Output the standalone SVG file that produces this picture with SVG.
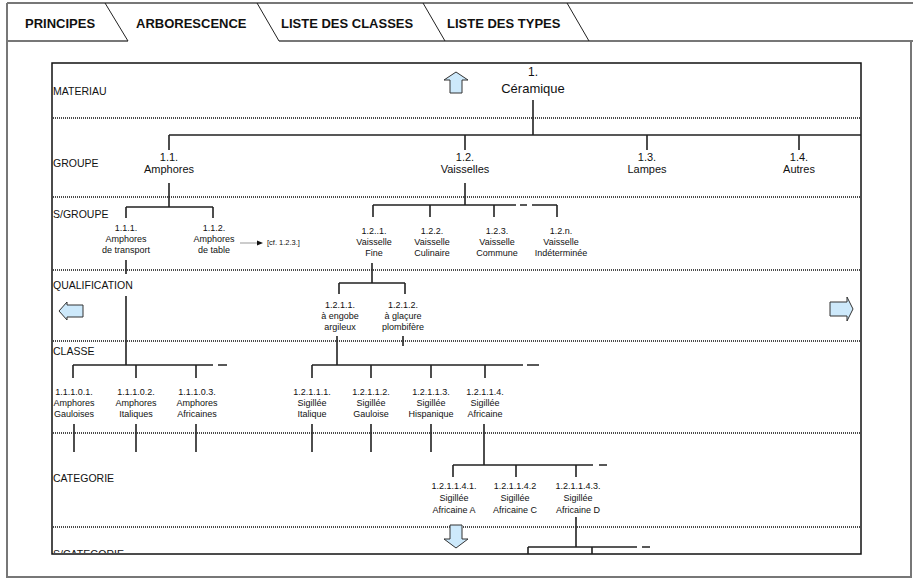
<svg xmlns="http://www.w3.org/2000/svg" width="913" height="578" viewBox="0 0 913 578">
<style>
text{font-family:"Liberation Sans",Arial,sans-serif;fill:#111}
.tab{font-size:13px;font-weight:bold}
.lbl{font-size:10.5px}
.g{font-size:11px;text-anchor:middle}
.top{font-size:13px;text-anchor:middle}
.n{font-size:9px;text-anchor:middle}
.cf{font-size:7.5px}
.frm{fill:none;stroke:#777;stroke-width:2}
.dot{stroke:#111;stroke-width:1.6;stroke-dasharray:1 1;fill:none}
.c{stroke:#222;stroke-width:1.6;fill:none}
.arr{fill:#cde9fb;stroke:#333;stroke-width:1}
</style>
<defs>
<clipPath id="clipBottom"><rect x="52" y="540" width="300" height="13"/></clipPath>
</defs>
<rect width="913" height="578" fill="#fff"/>
<g id="tabs">
<path class="frm" d="M7,3 H913 M7,3 V577 H911 V41 M7,41 H128 M279,41 H913"/>
<path d="M105,3 L128,41 M257,3 L279,41 M423,3 L445,41 M567,3 L589,41" stroke="#222" stroke-width="1" fill="none"/>
<text class="tab" x="25" y="28">PRINCIPES</text>
<text class="tab" x="136" y="28">ARBORESCENCE</text>
<text class="tab" x="281" y="28">LISTE DES CLASSES</text>
<text class="tab" x="447" y="28">LISTE DES TYPES</text>
</g>
<g id="frame">
<rect x="52" y="63" width="809" height="491" fill="none" stroke="#111" stroke-width="1.5"/>
<path class="dot" d="M53,118 H860 M53,197 H860 M53,270 H860 M53,341 H860 M53,433 H860 M53,527 H860"/>
</g>
<g id="row-labels">
<text class="lbl" x="53" y="95">MATERIAU</text>
<text class="lbl" x="53" y="167">GROUPE</text>
<text class="lbl" x="53" y="218">S/GROUPE</text>
<text class="lbl" x="53" y="289">QUALIFICATION</text>
<text class="lbl" x="53" y="355">CLASSE</text>
<text class="lbl" x="53" y="482">CATEGORIE</text>
<text class="lbl" x="53" y="558" clip-path="url(#clipBottom)">S/CATEGORIE</text>
</g>
<g id="nav-arrows">
<path class="arr" d="M456,72 L468,80 H462 V93 H450 V80 H444 Z"/>
<path class="arr" d="M450,525 H462 V539 H468 L456,548 L444,539 H450 Z"/>
<path class="arr" d="M59,311 L67,302 V305 H83 V317 H67 V320 Z"/>
<path class="arr" d="M830,302 H847 V297 L853,309 L847,321 V316 H830 Z"/>
</g>
<g id="connectors">
<path class="c" d="M533,100 V135 M169,135 H861 M169,135 V150 M465,135 V150 M647,135 V150 M799,135 V150"/>
<path class="c" d="M169,183 V207 M126,207 H213 M126,207 V218 M213,207 V218"/>
<path class="c" d="M465,183 V205 M373,205 H516 M520,205 H527 M532,205 H557 M373,205 V217 M430,205 V217 M494,205 V217 M557,205 V217"/>
<path d="M240,243 H258" stroke="#aaa" stroke-width="1.2"/>
<polygon points="257,240.5 263,243 257,245.5" fill="#111"/>
<path class="c" d="M126,260 V274 M126,296 V365 M73,365 H213 M218,365 H227 M73,365 V378 M136,365 V378 M196,365 V378"/>
<path class="c" d="M74,424 V452 M136,424 V452 M196,424 V452"/>
<path class="c" d="M372,263 V283 M339,283 H405 M339,283 V294 M405,283 V294"/>
<path class="c" d="M337,336 V365 M403,336 V346"/>
<path class="c" d="M312,365 H523 M527,365 H539 M312,365 V378 M371,365 V378 M431,365 V378 M485,365 V378"/>
<path class="c" d="M312,424 V452 M371,424 V452 M431,424 V452 M484,424 V465"/>
<path class="c" d="M453,465 H593 M599,465 H607 M453,465 V477 M516,465 V477 M576,465 V477"/>
<path class="c" d="M576,517 V547 M528,547 H637 M642,547 H650 M528,547 V554 M592,547 V554"/>
</g>
<g id="n1"><text class="top" x="533" y="76" style="font-size:12px">1.</text><text class="top" x="533" y="93">Céramique</text></g>
<g id="n1-1"><text class="g" x="169" y="161">1.1.</text><text class="g" x="169" y="173">Amphores</text></g>
<g id="n1-2"><text class="g" x="465" y="161">1.2.</text><text class="g" x="465" y="173">Vaisselles</text></g>
<g id="n1-3"><text class="g" x="647" y="161">1.3.</text><text class="g" x="647" y="173">Lampes</text></g>
<g id="n1-4"><text class="g" x="799" y="161">1.4.</text><text class="g" x="799" y="173">Autres</text></g>
<g id="n1-1-1"><text class="n" x="126" y="231">1.1.1.</text><text class="n" x="126" y="242">Amphores</text><text class="n" x="126" y="253">de transport</text></g>
<g id="n1-1-2"><text class="n" x="214" y="231">1.1.2.</text><text class="n" x="214" y="242">Amphores</text><text class="n" x="214" y="253">de table</text></g>
<g id="cf"><text class="cf" x="267" y="245">[cf. 1.2.3.]</text></g>
<g id="n1-2-1"><text class="n" x="374" y="234">1.2..1.</text><text class="n" x="374" y="245">Vaisselle</text><text class="n" x="374" y="256">Fine</text></g>
<g id="n1-2-2"><text class="n" x="432" y="234">1.2.2.</text><text class="n" x="432" y="245">Vaisselle</text><text class="n" x="432" y="256">Culinaire</text></g>
<g id="n1-2-3"><text class="n" x="497" y="234">1.2.3.</text><text class="n" x="497" y="245">Vaisselle</text><text class="n" x="497" y="256">Commune</text></g>
<g id="n1-2-n"><text class="n" x="561" y="234">1.2.n.</text><text class="n" x="561" y="245">Vaisselle</text><text class="n" x="561" y="256">Indéterminée</text></g>
<g id="n1-2-1-1"><text class="n" x="340" y="308">1.2.1.1.</text><text class="n" x="340" y="319">à engobe</text><text class="n" x="340" y="330">argileux</text></g>
<g id="n1-2-1-2"><text class="n" x="403" y="308">1.2.1.2.</text><text class="n" x="403" y="319">à glaçure</text><text class="n" x="403" y="330">plombifère</text></g>
<g id="n1-1-1-0-1"><text class="n" x="74" y="395">1.1.1.0.1.</text><text class="n" x="74" y="406">Amphores</text><text class="n" x="74" y="417">Gauloises</text></g>
<g id="n1-1-1-0-2"><text class="n" x="136" y="395">1.1.1.0.2.</text><text class="n" x="136" y="406">Amphores</text><text class="n" x="136" y="417">Italiques</text></g>
<g id="n1-1-1-0-3"><text class="n" x="197" y="395">1.1.1.0.3.</text><text class="n" x="197" y="406">Amphores</text><text class="n" x="197" y="417">Africaines</text></g>
<g id="n1-2-1-1-1"><text class="n" x="312" y="395">1.2.1.1.1.</text><text class="n" x="312" y="406">Sigillée</text><text class="n" x="312" y="417">Italique</text></g>
<g id="n1-2-1-1-2"><text class="n" x="371" y="395">1.2.1.1.2.</text><text class="n" x="371" y="406">Sigillée</text><text class="n" x="371" y="417">Gauloise</text></g>
<g id="n1-2-1-1-3"><text class="n" x="431" y="395">1.2.1.1.3.</text><text class="n" x="431" y="406">Sigillée</text><text class="n" x="431" y="417">Hispanique</text></g>
<g id="n1-2-1-1-4"><text class="n" x="485" y="395">1.2.1.1.4.</text><text class="n" x="485" y="406">Sigillée</text><text class="n" x="485" y="417">Africaine</text></g>
<g id="n1-2-1-1-4-1"><text class="n" x="454" y="489">1.2.1.1.4.1.</text><text class="n" x="454" y="501">Sigillée</text><text class="n" x="454" y="513">Africaine A</text></g>
<g id="n1-2-1-1-4-2"><text class="n" x="515" y="489">1.2.1.1.4.2</text><text class="n" x="515" y="501">Sigillée</text><text class="n" x="515" y="513">Africaine C</text></g>
<g id="n1-2-1-1-4-3"><text class="n" x="578" y="489">1.2.1.1.4.3.</text><text class="n" x="578" y="501">Sigillée</text><text class="n" x="578" y="513">Africaine D</text></g>
</svg>
